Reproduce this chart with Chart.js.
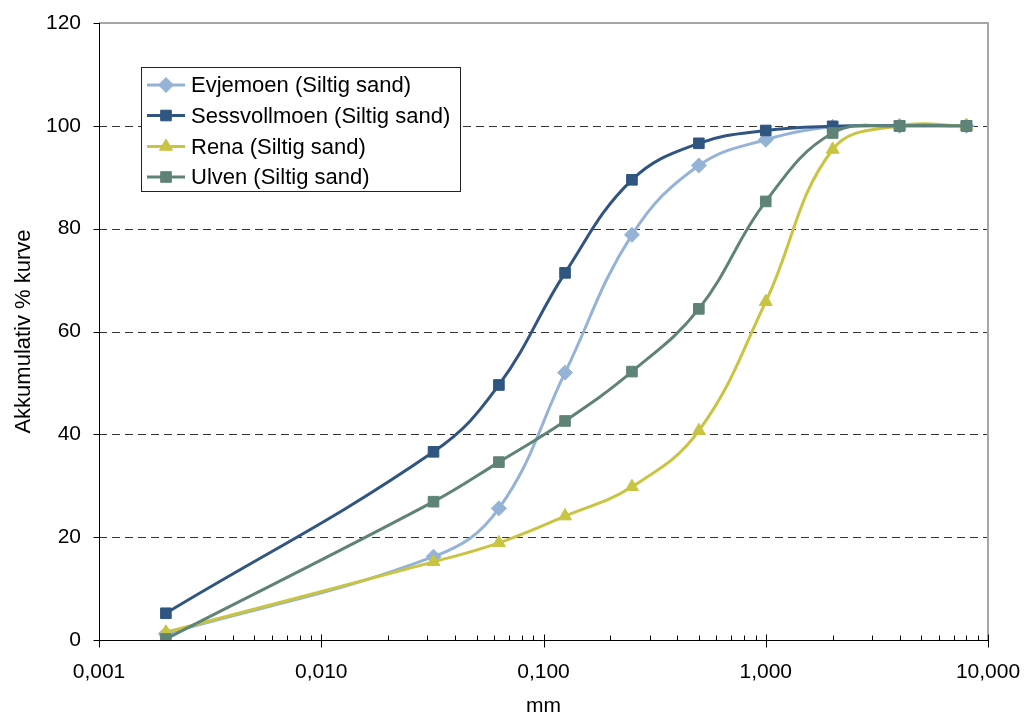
<!DOCTYPE html>
<html>
<head>
<meta charset="utf-8">
<script src="https://cdn.jsdelivr.net/npm/chart.js@4/dist/chart.umd.min.js"></script>
<style>
html,body{margin:0;padding:0;background:#fff;}
#wrap{width:1024px;height:717px;position:relative;}
</style>
</head>
<body>
<div id="wrap"><canvas id="c" width="1024" height="717"></canvas></div>
<script>
// ---- data ----
const sizesMm = [0.002, 0.032, 0.063, 0.125, 0.25, 0.5, 1, 2, 4, 8];
const evjemoen = [1.2, 16.2, 25.6, 52.0, 78.8, 92.3, 97.3, 99.8, 100, 100];
const sessvollmoen = [5.2, 36.6, 49.6, 71.4, 89.5, 96.6, 99.1, 99.9, 100, 100];
const rena = [1.5, 15.2, 18.9, 24.1, 29.8, 40.7, 65.8, 95.4, 100, 100];
const ulven = [0.2, 26.9, 34.6, 42.6, 52.2, 64.4, 85.3, 98.6, 100, 100];
const seriesNames = ['Evjemoen (Siltig sand)', 'Sessvollmoen (Siltig sand)', 'Rena (Siltig sand)', 'Ulven (Siltig sand)'];
const xMajorTicks = [0.001, 0.01, 0.1, 1, 10];
const yTicks = [0, 20, 40, 60, 80, 100, 120];

const colors = ['#95B3D7', '#2F5580', '#C9C441', '#5F8377'];
const styles = ['rectRot', 'rect', 'triangle', 'rect'];
const radii = [7.5, 7.5, 7.5, 7.5];
const FONT = '"Liberation Sans", Arial, sans-serif';

function pts(arr){ return sizesMm.map((x,i)=>({x:x, y:arr[i]})); }
const allSeries = [evjemoen, sessvollmoen, rena, ulven];

const datasets = allSeries.map((arr,i)=>({
  label: seriesNames[i],
  data: pts(arr),
  borderColor: colors[i],
  backgroundColor: colors[i],
  pointBackgroundColor: colors[i],
  pointBorderColor: colors[i],
  pointStyle: styles[i],
  pointRadius: radii[i],
  pointBorderWidth: 1,
  borderWidth: 3,
  tension: 0.4,
  order: 4 - i,
  fill: false
}));

function drawMarker(ctx, style, x, y, r, color){
  ctx.save();
  ctx.fillStyle = color; ctx.strokeStyle = color; ctx.lineWidth = 1;
  ctx.beginPath();
  if (style === 'rect') {
    const h = r * Math.SQRT1_2;
    ctx.rect(x - h, y - h, 2*h, 2*h);
  } else if (style === 'rectRot') {
    ctx.moveTo(x, y - r); ctx.lineTo(x + r, y); ctx.lineTo(x, y + r); ctx.lineTo(x - r, y); ctx.closePath();
  } else if (style === 'triangle') {
    const s = Math.sin(Math.PI/3) * r;
    ctx.moveTo(x, y - r); ctx.lineTo(x + s, y + r/2); ctx.lineTo(x - s, y + r/2); ctx.closePath();
  }
  ctx.fill(); ctx.stroke();
  ctx.restore();
}

const framePlugin = {
  id: 'frame',
  beforeDatasetsDraw(chart){
    const {ctx, chartArea:a, scales} = chart;
    const x = scales.x, y = scales.y;
    ctx.save();
    ctx.strokeStyle = '#333'; ctx.lineWidth = 1; ctx.setLineDash([8,5]);
    [20,40,60,80,100].forEach(v=>{
      const py = Math.round(y.getPixelForValue(v)) + 0.5;
      ctx.beginPath(); ctx.moveTo(a.left, py); ctx.lineTo(a.right, py); ctx.stroke();
    });
    ctx.setLineDash([]);
    ctx.strokeStyle = '#a6a6a6'; ctx.lineWidth = 2;
    ctx.beginPath(); ctx.moveTo(a.left, a.top); ctx.lineTo(a.right, a.top); ctx.lineTo(a.right, a.bottom); ctx.stroke();
    ctx.strokeStyle = '#000'; ctx.lineWidth = 1;
    const lx = Math.round(a.left) + 0.5, by = Math.round(a.bottom) + 0.5;
    ctx.beginPath(); ctx.moveTo(lx, a.top); ctx.lineTo(lx, by); ctx.lineTo(a.right, by); ctx.stroke();
    yTicks.forEach(v=>{
      const py = Math.round(y.getPixelForValue(v)) + 0.5;
      ctx.beginPath(); ctx.moveTo(lx - 6, py); ctx.lineTo(lx, py); ctx.stroke();
    });
    xMajorTicks.forEach(v=>{
      const px = Math.round(x.getPixelForValue(v)) + 0.5;
      ctx.beginPath(); ctx.moveTo(px, by - 6); ctx.lineTo(px, by + 7); ctx.stroke();
    });
    for (let d = 0; d < 4; d++) {
      for (let m = 2; m <= 9; m++) {
        const v = xMajorTicks[d] * m;
        const px = Math.round(x.getPixelForValue(v)) + 0.5;
        ctx.beginPath(); ctx.moveTo(px, by - 5); ctx.lineTo(px, by); ctx.stroke();
      }
    }
    ctx.restore();
  },
  afterDraw(chart){
    const ctx = chart.ctx;
    ctx.save();
    const bx = 141.5, byy = 67.5, bw = 319, bh = 124;
    ctx.fillStyle = '#fff'; ctx.fillRect(bx, byy, bw, bh);
    ctx.strokeStyle = '#222'; ctx.lineWidth = 1; ctx.strokeRect(bx, byy, bw, bh);
    const rows = [85, 115.5, 146.5, 177];
    ctx.font = '22px ' + FONT; ctx.textBaseline = 'middle'; ctx.textAlign = 'left';
    seriesNames.forEach((n,i)=>{
      const yy = rows[i];
      ctx.strokeStyle = colors[i]; ctx.lineWidth = 3;
      ctx.beginPath(); ctx.moveTo(147, yy); ctx.lineTo(185, yy); ctx.stroke();
      drawMarker(ctx, styles[i], 166, yy, radii[i], colors[i]);
      ctx.fillStyle = '#000';
      ctx.fillText(n, 191, yy + 1);
    });
    ctx.restore();
  }
};

new Chart(document.getElementById('c'), {
  type: 'line',
  data: { datasets },
  plugins: [framePlugin],
  options: {
    responsive: false,
    animation: false,
    layout: { padding: { left: 0, right: 36, top: 23, bottom: 0 } },
    plugins: { legend: { display: false }, tooltip: { enabled: false } },
    scales: {
      x: {
        type: 'logarithmic',
        min: 0.001, max: 10,
        afterFit(s){ s.height = 77; s.paddingLeft = 0; s.paddingRight = 0; },
        afterBuildTicks(s){ s.ticks = xMajorTicks.map(v=>({value:v})); },
        grid: { display: false, drawTicks: false },
        border: { display: false },
        ticks: {
          autoSkip: false, maxRotation: 0, padding: 20,
          color: '#000', font: { family: FONT, size: 21 },
          callback: (v)=> Number(v).toFixed(3).replace('.', ',')
        },
        title: { display: true, text: 'mm', color: '#000', font: { family: FONT, size: 21, lineHeight: 1 }, padding: { top: 0, bottom: 0 } }
      },
      y: {
        min: 0, max: 120,
        afterFit(s){ s.width = 99; s.paddingTop = 0; s.paddingBottom = 0; },
        afterBuildTicks(s){ s.ticks = yTicks.map(v=>({value:v})); },
        grid: { display: false, drawTicks: false },
        border: { display: false },
        ticks: { padding: 18, color: '#000', font: { family: FONT, size: 21 } },
        title: { display: true, text: 'Akkumulativ % kurve', color: '#000', font: { family: FONT, size: 22, lineHeight: 1 }, padding: { top: 13, bottom: 0 } }
      }
    }
  }
});
</script>
</body>
</html>
